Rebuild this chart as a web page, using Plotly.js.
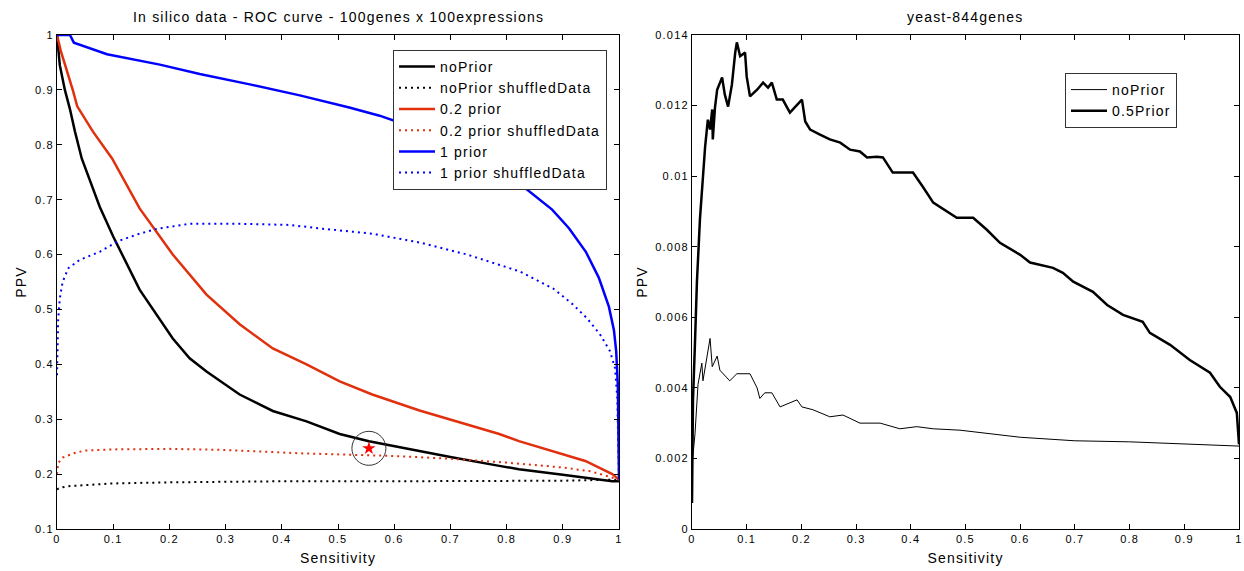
<!DOCTYPE html>
<html>
<head>
<meta charset="utf-8">
<script src="https://cdn.plot.ly/plotly-3.0.1.min.js"></script>
<style>
html,body{margin:0;padding:0;background:#fff;}
#chart{width:1244px;height:571px;}
svg text{letter-spacing:1.2px;}
</style>
</head>
<body>
<div id="chart"></div>
<script>
// ---- Left panel: In silico data ----
const noPriorX = [0, 0.005, 0.014, 0.023, 0.032, 0.044, 0.076, 0.1, 0.147, 0.178, 0.206, 0.236, 0.266, 0.325, 0.384, 0.444, 0.503, 0.555, 0.609, 0.7, 0.787, 0.822, 0.9, 0.988, 1];
const noPriorY = [1, 0.945, 0.9, 0.865, 0.824, 0.775, 0.687, 0.633, 0.536, 0.49, 0.447, 0.411, 0.387, 0.345, 0.315, 0.296, 0.273, 0.26, 0.249, 0.231, 0.215, 0.209, 0.199, 0.187, 0.187];

const noPriorShufX = [0, 0.005, 0.02, 0.05, 0.1, 0.2, 0.3, 0.4, 0.6, 0.8, 0.9, 1];
const noPriorShufY = [0.172, 0.175, 0.178, 0.18, 0.183, 0.185, 0.186, 0.187, 0.187, 0.188, 0.188, 0.19];

const prior02X = [0, 0.007, 0.028, 0.036, 0.064, 0.098, 0.147, 0.206, 0.266, 0.325, 0.384, 0.444, 0.503, 0.561, 0.645, 0.72, 0.787, 0.822, 0.88, 0.94, 0.988, 1];
const prior02Y = [1, 0.97, 0.9, 0.87, 0.824, 0.775, 0.684, 0.6, 0.527, 0.473, 0.429, 0.4, 0.369, 0.345, 0.316, 0.293, 0.273, 0.26, 0.243, 0.224, 0.2, 0.19];

const prior02ShufX = [0, 0.002, 0.01, 0.03, 0.05, 0.1, 0.2, 0.3, 0.43, 0.5, 0.6, 0.7, 0.8, 0.9, 0.95, 1];
const prior02ShufY = [0.2, 0.22, 0.23, 0.238, 0.243, 0.245, 0.246, 0.244, 0.238, 0.236, 0.233, 0.228, 0.221, 0.212, 0.205, 0.19];

const prior1X = [0, 0.023, 0.03, 0.06, 0.089, 0.183, 0.254, 0.343, 0.432, 0.52, 0.574, 0.65, 0.75, 0.8, 0.845, 0.881, 0.911, 0.941, 0.964, 0.982, 0.991, 0.995, 0.998, 1];
const prior1Y = [1, 1, 0.986, 0.975, 0.965, 0.946, 0.929, 0.91, 0.89, 0.868, 0.853, 0.826, 0.78, 0.748, 0.711, 0.682, 0.648, 0.605, 0.558, 0.505, 0.462, 0.424, 0.36, 0.19];

const prior1ShufX = [0, 0.0005, 0.002, 0.005, 0.01, 0.02, 0.04, 0.076, 0.11, 0.147, 0.178, 0.236, 0.325, 0.414, 0.473, 0.561, 0.645, 0.73, 0.824, 0.883, 0.918, 0.943, 0.966, 0.984, 0.993, 0.997, 1];
const prior1ShufY = [0.38, 0.43, 0.48, 0.52, 0.55, 0.575, 0.59, 0.605, 0.625, 0.638, 0.647, 0.656, 0.656, 0.654, 0.647, 0.638, 0.622, 0.6, 0.569, 0.538, 0.509, 0.484, 0.455, 0.424, 0.393, 0.338, 0.19];

const markX = [0.555];
const markY = [0.247];

// ---- Right panel: yeast-844genes ----
const yeastNoPriorX = [0, 0.0055, 0.011, 0.018, 0.02, 0.027, 0.033, 0.037, 0.046, 0.051, 0.069, 0.082, 0.106, 0.119, 0.124, 0.133, 0.146, 0.161, 0.185, 0.192, 0.201, 0.221, 0.252, 0.276, 0.307, 0.344, 0.38, 0.411, 0.441, 0.49, 0.6, 0.7, 0.8, 0.9, 1];
const yeastNoPriorY = [0.0018, 0.0027, 0.0041, 0.0047, 0.0042, 0.0049, 0.0054, 0.0046, 0.0049, 0.0045, 0.0042, 0.0044, 0.0044, 0.004, 0.0037, 0.00386, 0.00386, 0.00346, 0.0036, 0.00366, 0.00346, 0.00338, 0.00318, 0.00323, 0.003, 0.003, 0.00284, 0.0029, 0.00284, 0.0028, 0.0026, 0.0025, 0.00247, 0.0024, 0.00235];

const yeast05X = [0, 0.0018, 0.0055, 0.009, 0.0146, 0.018, 0.024, 0.029, 0.033, 0.037, 0.038, 0.042, 0.046, 0.055, 0.06, 0.066, 0.073, 0.079, 0.082, 0.088, 0.097, 0.1, 0.106, 0.119, 0.13, 0.139, 0.146, 0.155, 0.166, 0.179, 0.192, 0.201, 0.207, 0.216, 0.234, 0.252, 0.271, 0.289, 0.307, 0.32, 0.338, 0.349, 0.367, 0.404, 0.422, 0.441, 0.484, 0.514, 0.539, 0.563, 0.6, 0.618, 0.66, 0.678, 0.697, 0.733, 0.759, 0.788, 0.824, 0.837, 0.874, 0.91, 0.947, 0.965, 0.984, 0.996, 1];
const yeast05Y = [0.00074, 0.00366, 0.0053, 0.007, 0.0088, 0.00953, 0.01084, 0.0116, 0.01132, 0.01189, 0.01104, 0.01194, 0.01245, 0.0128, 0.01231, 0.01197, 0.0126, 0.0135, 0.01379, 0.0134, 0.0135, 0.01282, 0.01226, 0.01245, 0.01265, 0.01251, 0.01265, 0.01217, 0.01217, 0.0118, 0.01203, 0.01217, 0.01155, 0.01132, 0.01118, 0.01104, 0.01095, 0.01075, 0.0107, 0.01053, 0.01055, 0.01053, 0.0101, 0.0101, 0.0097, 0.00925, 0.00882, 0.00882, 0.00848, 0.00811, 0.00777, 0.00755, 0.0074, 0.00726, 0.00701, 0.00672, 0.00635, 0.00607, 0.00587, 0.00556, 0.00522, 0.00479, 0.00443, 0.00403, 0.00374, 0.00329, 0.0024];

// ---- Tick labels ----
const xTickVals = [0, 0.1, 0.2, 0.3, 0.4, 0.5, 0.6, 0.7, 0.8, 0.9, 1];
const xTickText = ['0', '0.1', '0.2', '0.3', '0.4', '0.5', '0.6', '0.7', '0.8', '0.9', '1'];
const leftYTickVals = [0.1, 0.2, 0.3, 0.4, 0.5, 0.6, 0.7, 0.8, 0.9, 1];
const leftYTickText = ['0.1', '0.2', '0.3', '0.4', '0.5', '0.6', '0.7', '0.8', '0.9', '1'];
const rightYTickVals = [0, 0.002, 0.004, 0.006, 0.008, 0.01, 0.012, 0.014];
const rightYTickText = ['0', '0.002', '0.004', '0.006', '0.008', '0.01', '0.012', '0.014'];

const RED = '#e0300e';
const BLUE = '#0000ff';
const DOT = '2px,4px';

const traces = [
  {x: noPriorX, y: noPriorY, name: 'noPrior', mode: 'lines', line: {color: '#000', width: 2.5}, xaxis: 'x', yaxis: 'y', legend: 'legend'},
  {x: noPriorShufX, y: noPriorShufY, name: 'noPrior shuffledData', mode: 'lines', line: {color: '#000', width: 2, dash: DOT}, xaxis: 'x', yaxis: 'y', legend: 'legend'},
  {x: prior02X, y: prior02Y, name: '0.2 prior', mode: 'lines', line: {color: RED, width: 2.5}, xaxis: 'x', yaxis: 'y', legend: 'legend'},
  {x: prior02ShufX, y: prior02ShufY, name: '0.2 prior shuffledData', mode: 'lines', line: {color: RED, width: 2, dash: DOT}, xaxis: 'x', yaxis: 'y', legend: 'legend'},
  {x: prior1X, y: prior1Y, name: '1 prior', mode: 'lines', line: {color: BLUE, width: 2.5}, xaxis: 'x', yaxis: 'y', legend: 'legend'},
  {x: prior1ShufX, y: prior1ShufY, name: '1 prior shuffledData', mode: 'lines', line: {color: BLUE, width: 2, dash: DOT}, xaxis: 'x', yaxis: 'y', legend: 'legend'},
  {x: markX, y: markY, mode: 'markers', showlegend: false, marker: {symbol: 'circle-open', size: 34, color: '#333', line: {width: 1, color: '#333'}}, xaxis: 'x', yaxis: 'y', hoverinfo: 'skip'},
  {x: markX, y: markY, mode: 'markers', showlegend: false, marker: {symbol: 'star', size: 10, color: '#ff0000', line: {width: 0}}, xaxis: 'x', yaxis: 'y', hoverinfo: 'skip'},
  {x: yeastNoPriorX, y: yeastNoPriorY, name: 'noPrior', mode: 'lines', line: {color: '#000', width: 1}, xaxis: 'x2', yaxis: 'y2', legend: 'legend2'},
  {x: yeast05X, y: yeast05Y, name: '0.5Prior', mode: 'lines', line: {color: '#000', width: 2.5}, xaxis: 'x2', yaxis: 'y2', legend: 'legend2'}
];

const FONT = 'Liberation Sans, Arial, sans-serif';
const W = 1244, H = 571;
const axBase = {
  showline: true, linecolor: '#000', linewidth: 1, mirror: 'ticks',
  ticks: 'inside', ticklen: 5, tickwidth: 1, tickcolor: '#000',
  showgrid: false, zeroline: false, tickfont: {family: FONT, size: 11, color: '#000'},
  tickmode: 'array'
};
const xAx = (dom, anchor) => Object.assign({}, axBase, {
  domain: dom, anchor: anchor, range: [0, 1], tickvals: xTickVals, ticktext: xTickText,
  title: {text: 'Sensitivity', font: {family: FONT, size: 14, color: '#000'}, standoff: 8}
});

const layout = {
  width: W, height: H,
  margin: {l: 0, r: 0, t: 0, b: 0},
  paper_bgcolor: '#fff', plot_bgcolor: '#fff',
  font: {family: FONT, color: '#000'},
  xaxis: xAx([57 / W, 619 / W], 'y'),
  yaxis: Object.assign({}, axBase, {
    domain: [1 - 529 / H, 1 - 35 / H], anchor: 'x', range: [0.1, 1],
    tickvals: leftYTickVals, ticktext: leftYTickText,
    title: {text: 'PPV', font: {family: FONT, size: 14, color: '#000'}, standoff: 4}
  }),
  xaxis2: xAx([692 / W, 1239 / W], 'y2'),
  yaxis2: Object.assign({}, axBase, {
    domain: [1 - 529 / H, 1 - 35 / H], anchor: 'x2', range: [0, 0.014],
    tickvals: rightYTickVals, ticktext: rightYTickText,
    title: {text: 'PPV', font: {family: FONT, size: 14, color: '#000'}, standoff: 4}
  }),
  legend: {
    x: 393 / W, y: 1 - 50 / H, xanchor: 'left', yanchor: 'top',
    bgcolor: '#fff', bordercolor: '#333', borderwidth: 1,
    font: {family: FONT, size: 14, color: '#000'}, itemwidth: 36, tracegroupgap: 0
  },
  legend2: {
    x: 1065 / W, y: 1 - 73 / H, xanchor: 'left', yanchor: 'top',
    bgcolor: '#fff', bordercolor: '#333', borderwidth: 1,
    font: {family: FONT, size: 14, color: '#000'}, itemwidth: 36
  },
  annotations: [
    {text: 'In silico data - ROC curve - 100genes x 100expressions', xref: 'paper', yref: 'paper',
     x: 338 / W, y: 1 - 17 / H, xanchor: 'center', yanchor: 'middle', showarrow: false,
     font: {family: FONT, size: 14, color: '#000'}},
    {text: 'yeast-844genes', xref: 'paper', yref: 'paper',
     x: 965 / W, y: 1 - 17 / H, xanchor: 'center', yanchor: 'middle', showarrow: false,
     font: {family: FONT, size: 14, color: '#000'}}
  ],
  showlegend: true
};

Plotly.newPlot('chart', traces, layout, {staticPlot: true, displayModeBar: false});
</script>
</body>
</html>
